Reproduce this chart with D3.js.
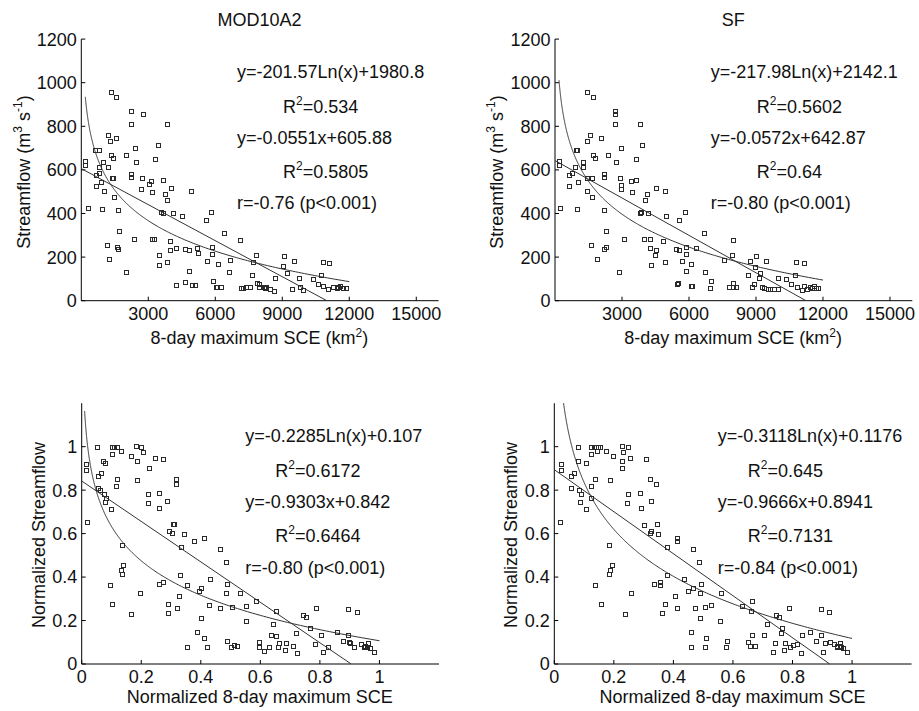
<!DOCTYPE html>
<html><head><meta charset="utf-8">
<script src="https://cdn.jsdelivr.net/npm/d3@7"></script>
<style>body{margin:0;background:#fff}svg{display:block}</style>
</head><body>
<svg id="c" width="919" height="711"></svg>
<script>
// ---------- data ----------
const modX = [1329,1568,2210,2747,2210,3822,1194,1568,1284,3449,2404,627,776,1344,1986,1433,3300,179,179,2463,956,776,1194,2210,642,806,1374,1433,2210,2702,3016,3121,3643,672,881,2687,4016,4897,3150,3732,1000,1448,3822,284,940,1642,3568,3673,4106,4524,5822,5598,6375,1687,7092,2374,3150,3240,3956,1165,1612,1642,3956,4240,4628,4807,5181,5226,5852,5852,3494,5628,6121,6659,3822,3494,1224,1986,4807,6629,5897,7823,7704,7659,7853,7942,8256,8644,8450,8659,9032,9062,9227,9510,9734,9436,9779,9943,10361,10615,10734,10809,11093,10839,11048,11287,11436,11585,11734,11839,11511,4255,4658,4971,5076,6017,6092,6256,7137,7241,7390,7570,7942,8196,8241];
const modY = [957,934,870,858,812,812,761,746,734,716,701,693,693,670,670,655,650,642,624,635,635,615,615,581,578,584,563,563,566,561,534,547,553,527,543,513,515,503,497,489,505,477,462,427,419,416,408,401,401,388,408,370,312,320,278,284,281,284,275,254,246,235,232,240,235,234,240,220,245,216,211,180,168,185,177,162,193,131,138,131,92,211,177,116,83,75,64,46,55,104,159,203,128,180,104,55,61,49,101,76,119,177,171,67,55,61,57,69,58,58,61,72,86,70,72,61,61,63,60,60,63,63,61,64,58];

const sfX = [1419,1718,2704,2704,2704,3825,1569,1419,2077,3899,2973,941,971,1688,2361,1793,3616,179,179,2734,1240,911,1240,2211,2211,627,777,1419,1643,2928,3391,3616,2973,642,1046,2973,4542,4930,1419,3436,4109,1658,4049,224,1001,2211,3854,3810,4168,4960,5841,5558,6693,2286,7963,3078,3974,4258,4841,1613,2286,2181,4243,4512,5408,5573,5856,6320,4467,5871,5677,6081,7590,4930,4318,1882,2853,5871,6738,6992,7918,7963,8740,9009,9457,8934,8635,9128,9188,8889,9980,10324,10548,10742,10772,11130,10847,11041,11130,11279,11414,11519,11608,11668,11788,5528,5483,6081,6125,6947,7814,7963,8113,8815,9263,9368,9532,9637,9816,9965];
const sfY = [957,934,870,858,812,812,761,734,746,716,701,693,693,670,670,655,650,642,624,635,635,615,615,581,566,578,587,564,563,561,550,553,531,527,543,513,515,503,505,497,489,477,462,427,419,416,408,401,401,388,408,370,312,320,278,284,281,284,275,254,246,235,240,232,235,232,245,240,211,214,180,168,185,177,162,193,131,138,131,92,211,83,180,203,180,153,116,104,128,76,104,101,76,119,177,171,61,49,67,55,64,57,67,57,57,83,76,67,66,58,61,61,61,61,64,57,52,55,55,55];

const nModX = [0.053,0.071,0.078,0.102,0.110,0.118,0.103,0.132,0.165,0.184,0.198,0.206,0.185,0.227,0.246,0.272,0.015,0.015,0.056,0.066,0.120,0.114,0.185,0.317,0.317,0.054,0.060,0.075,0.082,0.078,0.097,0.224,0.224,0.259,0.261,0.286,0.019,0.306,0.311,0.293,0.303,0.343,0.376,0.411,0.334,0.466,0.484,0.137,0.140,0.131,0.137,0.331,0.432,0.487,0.259,0.272,0.353,0.399,0.393,0.486,0.531,0.196,0.328,0.094,0.103,0.290,0.291,0.165,0.319,0.429,0.465,0.505,0.553,0.587,0.399,0.551,0.652,0.642,0.744,0.753,0.786,0.720,0.767,0.805,0.859,0.896,0.923,0.894,0.879,0.898,0.901,0.782,0.826,0.812,0.916,0.937,0.951,0.957,0.962,0.969,0.981,0.948,0.386,0.410,0.421,0.354,0.489,0.503,0.510,0.522,0.595,0.594,0.613,0.629,0.635,0.654,0.661,0.659,0.685,0.683,0.708,0.722];
const nModY = [1.0,0.936,0.923,1.0,1.0,1.0,0.966,0.979,0.957,1.003,1.0,0.974,0.934,0.902,0.946,0.943,0.920,0.893,0.865,0.877,0.850,0.821,0.845,0.851,0.828,0.808,0.801,0.782,0.764,0.747,0.712,0.782,0.739,0.785,0.719,0.750,0.653,0.644,0.643,0.612,0.601,0.597,0.564,0.580,0.540,0.529,0.471,0.546,0.457,0.434,0.416,0.411,0.391,0.368,0.368,0.376,0.364,0.348,0.334,0.325,0.325,0.325,0.314,0.364,0.276,0.276,0.233,0.230,0.258,0.271,0.258,0.261,0.267,0.291,0.212,0.199,0.244,0.184,0.225,0.215,0.259,0.143,0.164,0.133,0.147,0.253,0.241,0.135,0.106,0.101,0.098,0.094,0.080,0.057,0.080,0.092,0.084,0.077,0.097,0.072,0.057,0.077,0.147,0.118,0.080,0.080,0.106,0.077,0.089,0.084,0.103,0.077,0.058,0.080,0.132,0.130,0.098,0.080,0.098,0.064,0.084,0.052];

const nSfX = [0.021,0.021,0.019,0.080,0.123,0.132,0.141,0.146,0.154,0.123,0.145,0.173,0.198,0.227,0.247,0.231,0.227,0.253,0.227,0.308,0.080,0.106,0.056,0.067,0.136,0.123,0.187,0.320,0.340,0.056,0.084,0.088,0.086,0.123,0.108,0.246,0.245,0.289,0.291,0.325,0.302,0.345,0.325,0.320,0.347,0.412,0.412,0.378,0.466,0.485,0.185,0.195,0.188,0.185,0.379,0.437,0.136,0.334,0.356,0.356,0.449,0.465,0.492,0.488,0.258,0.404,0.157,0.373,0.361,0.238,0.411,0.474,0.505,0.525,0.488,0.558,0.560,0.631,0.665,0.659,0.744,0.754,0.788,0.714,0.704,0.761,0.765,0.832,0.859,0.896,0.924,0.895,0.879,0.902,0.909,0.926,0.940,0.949,0.951,0.961,0.963,0.969,0.982,0.960,0.460,0.511,0.460,0.506,0.578,0.580,0.651,0.656,0.663,0.674,0.735,0.741,0.774,0.773,0.793,0.800,0.815,0.829];
const nSfY = [0.920,0.893,0.653,1.0,1.0,1.0,1.0,1.0,1.0,0.966,0.979,0.982,0.957,1.003,1.0,0.974,0.936,0.946,0.902,0.943,0.936,0.923,0.865,0.877,0.850,0.821,0.845,0.851,0.828,0.808,0.801,0.782,0.747,0.762,0.712,0.782,0.739,0.785,0.719,0.750,0.640,0.644,0.612,0.601,0.597,0.580,0.564,0.540,0.529,0.471,0.546,0.457,0.434,0.416,0.411,0.391,0.364,0.368,0.376,0.364,0.334,0.348,0.368,0.325,0.325,0.314,0.276,0.276,0.233,0.230,0.258,0.258,0.261,0.271,0.212,0.199,0.325,0.268,0.291,0.244,0.225,0.215,0.259,0.184,0.132,0.144,0.164,0.133,0.147,0.253,0.241,0.135,0.106,0.057,0.098,0.103,0.092,0.084,0.077,0.097,0.080,0.072,0.057,0.084,0.147,0.118,0.080,0.080,0.080,0.106,0.101,0.083,0.132,0.083,0.057,0.098,0.098,0.064,0.080,0.087,0.094,0.052];

const titles = ["MOD10A2", "SF"];
const topXTicks = [3000, 6000, 9000, 12000, 15000];
const topYTicks = [0, 200, 400, 600, 800, 1000, 1200];
const normTicks = [0, 0.2, 0.4, 0.6, 0.8, 1];
// fitted curves: y = a*Ln(x) + b  and  y = a*x + b  (coefficients as printed)
const logFits = [[-201.57, 1980.8], [-217.98, 2142.1], [-0.2285, 0.107], [-0.3118, 0.1176]];
const logRange = [[179, 12000], [179, 12000], [0.0098, 1], [0.031, 1]];
const linFits = [[-0.0551, 605.88], [-0.0572, 642.87], [-0.9303, 0.842], [-0.9666, 0.8941]];
const linRange = [[0, 10996], [0, 11239], [0, 0.905], [0, 0.925]];
const logEq = ["y=-201.57Ln(x)+1980.8", "y=-217.98Ln(x)+2142.1", "y=-0.2285Ln(x)+0.107", "y=-0.3118Ln(x)+0.1176"];
const logR2 = ["0.534", "0.5602", "0.6172", "0.645"];
const linEq = ["y=-0.0551x+605.88", "y=-0.0572x+642.87", "y=-0.9303x+0.842", "y=-0.9666x+0.8941"];
const linR2 = ["0.5805", "0.64", "0.6464", "0.7131"];
const corr = ["r=-0.76 (p<0.001)", "r=-0.80 (p<0.001)", "r=-0.80 (p<0.001)", "r=-0.84 (p<0.001)"];

// ---------- drawing ----------
const svg = d3.select("#c");
const FONT = "'Liberation Sans', Arial, Helvetica, sans-serif";
const FS = 18;
const ink = "#111";

const panels = [
  {xs: modX, ys: modY, left: 81.3, bottom: 300.7, top: 39.1, xDom: [0, 16000], yDom: [0, 1200],
   xt: topXTicks, yt: topYTicks, title: titles[0], norm: false, ylabX: 29.5, ylabY: 172},
  {xs: sfX, ys: sfY, left: 555, bottom: 300.7, top: 39.1, xDom: [0, 16000], yDom: [0, 1200],
   xt: topXTicks, yt: topYTicks, title: titles[1], norm: false, ylabX: 502.7, ylabY: 172},
  {xs: nModX, ys: nModY, left: 81.7, bottom: 664, top: 403.2, xDom: [0, 1.2], yDom: [0, 1.2],
   xt: normTicks, yt: normTicks, title: null, norm: true, ylabX: 45, ylabY: 535},
  {xs: nSfX, ys: nSfY, left: 554.3, bottom: 664, top: 403.2, xDom: [0, 1.2], yDom: [0, 1.2],
   xt: normTicks, yt: normTicks, title: null, norm: true, ylabX: 516.7, ylabY: 535}
];
const W = 357.3;

function addText(g, x, y, parts, opts = {}) {
  const t = g.append("text").attr("x", x).attr("y", y)
    .attr("font-family", FONT).attr("font-size", FS).attr("fill", ink)
    .attr("text-anchor", opts.anchor || "start");
  if (opts.rotate) t.attr("transform", `rotate(-90,${x},${y})`);
  let shift = 0;
  parts.forEach(p => {
    const isSup = Array.isArray(p);
    const s = t.append("tspan").text(isSup ? p[0] : p);
    const target = isSup ? -7.5 : 0;
    if (target !== shift) { s.attr("dy", target - shift); shift = target; }
    if (isSup) s.attr("font-size", 12);
  });
  return t;
}

panels.forEach((p, i) => {
  const g = svg.append("g");
  const x = d3.scaleLinear().domain(p.xDom).range([p.left, p.left + W]);
  const y = d3.scaleLinear().domain(p.yDom).range([p.bottom, p.top]);

  // axes lines
  g.append("line").attr("x1", p.left).attr("x2", p.left + W).attr("y1", p.bottom).attr("y2", p.bottom)
    .attr("stroke", "#000").attr("stroke-width", 1);
  g.append("line").attr("x1", p.left).attr("x2", p.left).attr("y1", p.bottom).attr("y2", p.top)
    .attr("stroke", "#000").attr("stroke-width", 1);

  // x ticks (inward) + labels
  p.xt.forEach(v => {
    g.append("line").attr("x1", x(v)).attr("x2", x(v)).attr("y1", p.bottom).attr("y2", p.bottom - 4)
      .attr("stroke", "#000");
    addText(g, x(v), p.norm ? 683.3 : 320, [d3.format("")(v)], {anchor: "middle"});
  });
  // y ticks (inward) + labels
  p.yt.forEach(v => {
    g.append("line").attr("x1", p.left).attr("x2", p.left + 4).attr("y1", y(v)).attr("y2", y(v))
      .attr("stroke", "#000");
    addText(g, p.left - 4.5, y(v) + 6.4, [d3.format("")(v)], {anchor: "end"});
  });

  // axis labels
  const cx = p.left + W / 2 - 0.5;
  if (p.norm) {
    addText(g, cx, 703.3, ["Normalized 8-day maximum SCE"], {anchor: "middle"});
    addText(g, p.ylabX, p.ylabY, ["Normalized Streamflow"], {anchor: "middle", rotate: true});
  } else {
    addText(g, cx, 344, ["8-day maximum SCE (km", ["2"], ")"], {anchor: "middle"});
    addText(g, p.ylabX, p.ylabY, ["Streamflow (m", ["3"], " s", ["-1"], ")"], {anchor: "middle", rotate: true});
  }
  if (p.title) addText(g, cx, 26, [p.title], {anchor: "middle"});

  // fit curves
  const line = d3.line().x(d => x(d[0])).y(d => y(d[1]));
  const [la, lb] = logFits[i];
  const lr = logRange[i];
  const logPts = d3.range(0, 301).map(k => {
    const xv = Math.exp(Math.log(lr[0]) + (Math.log(lr[1]) - Math.log(lr[0])) * k / 300);
    return [xv, la * Math.log(xv) + lb];
  });
  g.append("path").attr("d", line(logPts)).attr("fill", "none").attr("stroke", "#333").attr("stroke-width", 1);
  const [ma, mb] = linFits[i];
  const linPts = linRange[i].map(xv => [xv, ma * xv + mb]);
  g.append("path").attr("d", line(linPts)).attr("fill", "none").attr("stroke", "#333").attr("stroke-width", 1);

  // points
  g.selectAll("rect.pt").data(p.xs.map((v, k) => [v, p.ys[k]])).enter().append("rect")
    .attr("x", d => Math.round(x(d[0])) - 1.5).attr("y", d => Math.round(y(d[1])) - 1.5)
    .attr("width", 4).attr("height", 4)
    .attr("fill", "none").attr("stroke", "#2a2a2a").attr("stroke-width", 1);

  // annotations
  const eqX = p.left + (p.norm ? 163.5 : 155.7);
  const rX = eqX + (p.norm ? 30 : 46);
  const offs = [39, 73.6, 105, 138.5, 170.3];
  addText(g, eqX, p.top + offs[0], [logEq[i]]);
  addText(g, rX, p.top + offs[1], ["R", ["2"], "=" + logR2[i]]);
  addText(g, eqX, p.top + offs[2], [linEq[i]]);
  addText(g, rX, p.top + offs[3], ["R", ["2"], "=" + linR2[i]]);
  addText(g, eqX, p.top + offs[4], [corr[i]]);
});
</script>
</body></html>
